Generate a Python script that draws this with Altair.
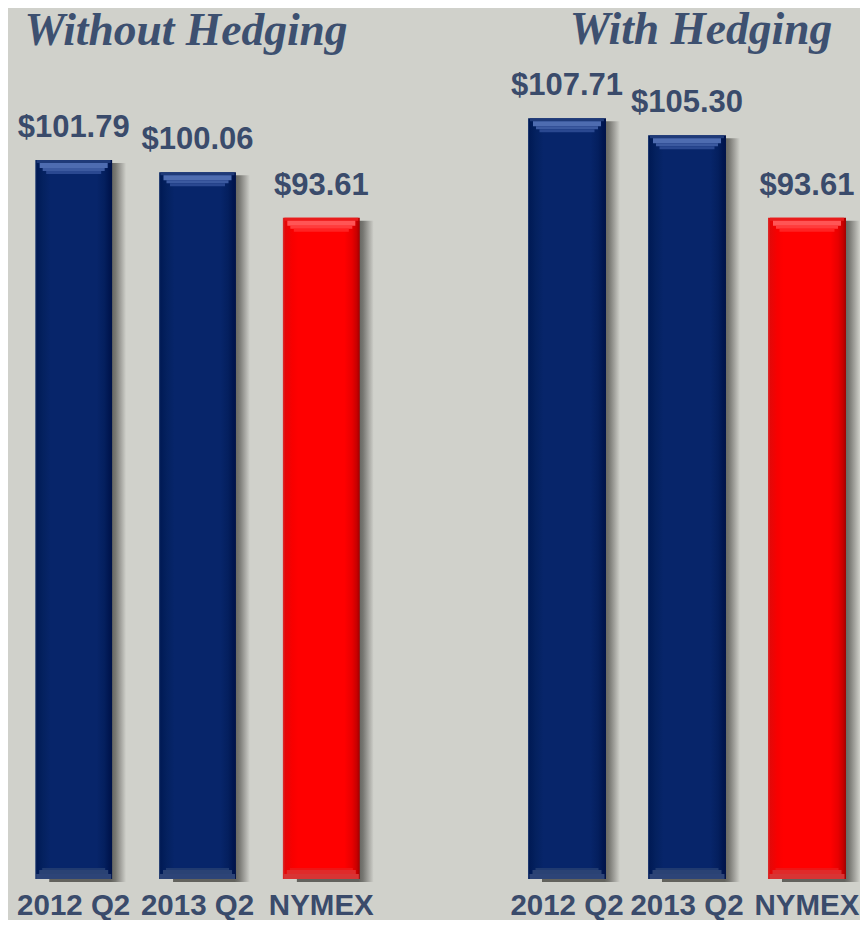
import altair as alt
import pandas as pd

# ---- data ----
categories = ["2012 Q2", "2013 Q2", "NYMEX"]
without_hedging = [101.79, 100.06, 93.61]
with_hedging = [107.71, 105.30, 93.61]
panel_titles = ["Without Hedging", "With Hedging"]

# ---- style ----
BG = "#d0d1cb"
TEXT = "#3a4b6b"
TITLE = "#3d5070"
YMAX = 123.3
PLOT_H = 871

def hgrad(stops):
    return {
        "gradient": "linear", "x1": 0, "x2": 1, "y1": 0, "y2": 0,
        "stops": [{"offset": o, "color": c} for o, c in stops],
    }

navy_grad = hgrad([(0, "#2a4478"), (0.02, "#001a55"), (0.1, "#04215f"),
                   (0.2, "#07256a"), (0.8, "#07256a"), (0.9, "#041f5e"),
                   (0.96, "#001650"), (1, "#001248")])
red_grad = hgrad([(0, "#d83030"), (0.03, "#e40808"), (0.12, "#f80000"),
                  (0.2, "#ff0000"), (0.8, "#ff0000"), (0.9, "#e80000"),
                  (0.96, "#c80000"), (1, "#a00000")])
shadow_grad = hgrad([(0, "#62625d"), (0.8, "#62625d"), (0.86, "#777772"),
                     (0.93, "#a3a39e"), (1, BG)])

NYMEX = "datum.category === 'NYMEX'"
NOT_NYMEX = "datum.category !== 'NYMEX'"


def panel(values, title, width, pin, pout, align, tx, ty):
    df = pd.DataFrame({"category": categories, "value": values})
    base = alt.Chart(df).transform_calculate(zero="0")
    x = alt.X(
        "category:N", sort=categories,
        scale=alt.Scale(paddingInner=pin, paddingOuter=pout, align=align),
        axis=alt.Axis(title=None, labelFont="Liberation Sans", labelFontWeight="bold",
                      labelFontSize=29.5, labelColor=TEXT, labelPadding=12, ticks=False,
                      domain=False, grid=False, labelAngle=0, labelOverlap=False),
    )
    yscale = alt.Scale(domain=[0, YMAX], nice=False, zero=True)
    y = alt.Y("value:Q", scale=yscale, axis=None)
    y0 = alt.Y("zero:Q", scale=yscale, axis=None)

    layers = [
        base.mark_bar(xOffset=14, yOffset=3, color=shadow_grad).encode(x=x, y=y),
        base.transform_filter(NOT_NYMEX).mark_bar(color=navy_grad).encode(x=x, y=y),
        base.transform_filter(NYMEX).mark_bar(color=red_grad).encode(x=x, y=y),
    ]
    # top bevels
    for flt, cols in [(NOT_NYMEX, ["#1f3a78", "#4e6cb0", "#3c5aa0", "#2a4890"]),
                      (NYMEX, ["#e81c1c", "#ff5555", "#ff3c3c", "#ff2222"])]:
        specs = [(74, 3, 1.5), (68, 5, 5.5), (62, 3, 9.5), (55, 3, 12.5)]
        for (sz, th, off), c in zip(specs, cols):
            layers.append(base.transform_filter(flt)
                          .mark_tick(size=sz, thickness=th, yOffset=off, color=c, opacity=1)
                          .encode(x=x, y=y))
    # bottom bevels
    for flt, cols in [(NOT_NYMEX, ["#2d4477", "#2a4274", "#203a70"]),
                      (NYMEX, ["#d83434", "#e02a2a", "#ee1414"])]:
        specs = [(75, 5, -2.5), (69, 4, -7), (63, 2, -10)]
        for (sz, th, off), c in zip(specs, cols):
            layers.append(base.transform_filter(flt)
                          .mark_tick(size=sz, thickness=th, yOffset=off, color=c, opacity=1)
                          .encode(x=x, y=y0))
    # value labels
    layers.append(base.mark_text(font="Liberation Sans", fontWeight="bold", fontSize=31,
                                 color=TEXT, baseline="alphabetic", dy=-23)
                  .encode(x=x, y=y, text=alt.Text("value:Q", format="$.2f")))
    # panel title
    layers.append(alt.Chart(pd.DataFrame({"title": [title]}))
                  .mark_text(font="Liberation Serif", fontStyle="italic", fontWeight="bold",
                             fontSize=45.5, color=TITLE, align="center", baseline="top")
                  .encode(x=alt.value(tx), y=alt.value(ty), text="title:N"))
    return alt.layer(*layers).properties(width=width, height=PLOT_H)


left = panel(without_hedging, panel_titles[0], 379, 0.379, 0.22, 0.5, 178, 1)
right = panel(with_hedging, panel_titles[1], 352, 0.35, 0.1417, 0.588, 193, 0)

chart = (
    alt.hconcat(left, right, spacing=121, bounds="flush")
    .properties(background=BG, padding=0)
    .configure_view(stroke=None)
)

chart.save("out.html", embed_options={"renderer": "svg", "actions": False})
